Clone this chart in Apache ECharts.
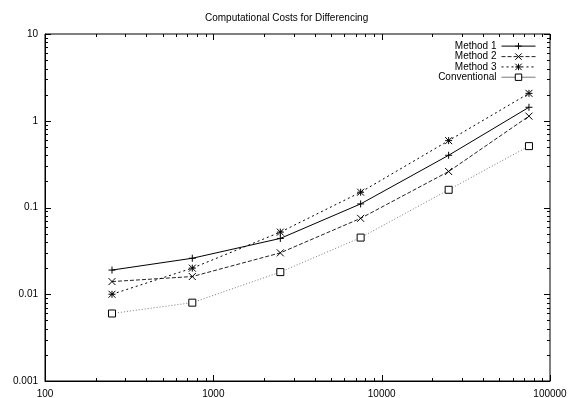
<!DOCTYPE html>
<html lang="en">

<head>
  <script src="https://cdn.jsdelivr.net/npm/echarts@6.0.0/dist/echarts.min.js"></script>
</head>

<body style="margin:0;background:#fff;">
  <div id="costChart" style="width: 570px;height:398px;"></div>

  <script type="text/javascript">

    // problem sizes on the x axis
    var sizes = [250, 750, 2500, 7500, 25000, 75000];

    // run time of each method
    var method1 = [0.019, 0.026, 0.044, 0.11, 0.40, 1.43];
    var method2 = [0.014, 0.016, 0.030, 0.075, 0.26, 1.13];
    var method3 = [0.010, 0.020, 0.052, 0.15, 0.59, 2.07];
    var conventional = [0.006, 0.008, 0.018, 0.045, 0.16, 0.51];

    // tick positions, gnuplot style (decades + 2..9 in between)
    var xMajorTicks = [100, 1000, 10000, 100000];
    var yMajorTicks = [0.001, 0.01, 0.1, 1, 10];
    var xMinorTicks = [200, 300, 400, 500, 600, 700, 800, 900,
                       2000, 3000, 4000, 5000, 6000, 7000, 8000, 9000,
                       20000, 30000, 40000, 50000, 60000, 70000, 80000, 90000];
    var yMinorTicks = [0.002, 0.003, 0.004, 0.005, 0.006, 0.007, 0.008, 0.009,
                       0.02, 0.03, 0.04, 0.05, 0.06, 0.07, 0.08, 0.09,
                       0.2, 0.3, 0.4, 0.5, 0.6, 0.7, 0.8, 0.9,
                       2, 3, 4, 5, 6, 7, 8, 9];

    var xMin = 100, xMax = 100000, yMin = 0.001, yMax = 10;
    var font = 'Liberation Sans';

    function pairs(ys) {
        return sizes.map(function (x, i) { return [x, ys[i]]; });
    }

    function fmt(v) {
        return String(Number(Number(v).toPrecision(4)));
    }

    function crisp(v) {
        return Math.round(v) + 0.5;
    }

    function tickLine(x1, y1, x2, y2) {
        return { type: 'line', shape: { x1: x1, y1: y1, x2: x2, y2: y2 }, style: { stroke: '#000', lineWidth: 1 } };
    }

    // x ticks: [value, yMin, length] -> marks on bottom and top edge
    function renderXTicks(params, api) {
        var b = api.coord([api.value(0), yMin]);
        var t = api.coord([api.value(0), yMax]);
        var len = api.value(2);
        var x = crisp(b[0]);
        return { type: 'group', children: [
            tickLine(x, b[1], x, b[1] - len),
            tickLine(x, t[1], x, t[1] + len)
        ] };
    }

    // y ticks: [xMin, value, length] -> marks on left and right edge
    function renderYTicks(params, api) {
        var l = api.coord([xMin, api.value(1)]);
        var r = api.coord([xMax, api.value(1)]);
        var len = api.value(2);
        var y = crisp(l[1]);
        return { type: 'group', children: [
            tickLine(l[0], y, l[0] + len, y),
            tickLine(r[0], y, r[0] - len, y)
        ] };
    }

    function logAxis(dim) {
        var isX = dim === 'x';
        return {
            type: 'log', logBase: 10,
            min: isX ? xMin : yMin, max: isX ? xMax : yMax,
            position: isX ? 'bottom' : 'left',
            axisLine: { show: true, onZero: false, lineStyle: { color: '#000', width: 1 } },
            axisTick: { show: false },
            axisLabel: {
                color: '#000', fontFamily: font, fontSize: 10,
                margin: isX ? 5 : 7,
                formatter: fmt
            },
            splitLine: { show: false }
        };
    }

    function makeSeries(name, ys, symbol, size, lineType, lineColor, fill) {
        return {
            name: name,
            type: 'line',
            data: pairs(ys),
            symbol: symbol,
            symbolSize: size,
            showAllSymbol: true,
            lineStyle: { color: lineColor, width: 1, type: lineType },
            itemStyle: { color: fill, borderColor: '#000', borderWidth: 1 },
            emphasis: { disabled: true }
        };
    }

    function legendDef(name, top, lineType) {
        return {
            data: [name],
            right: 34,
            top: top,
            padding: 0,
            align: 'right',
            itemWidth: 34,
            itemHeight: 8,
            selectedMode: false,
            lineStyle: { width: 1, type: lineType || 'inherit' },
            itemStyle: { borderWidth: 1 },
            textStyle: { color: '#000', fontFamily: font, fontSize: 10 }
        };
    }

    function createCostChart() {
        var chart = echarts.init(document.getElementById('costChart'));

        var xTickData = xMajorTicks.map(function (v) { return [v, yMin, 6]; })
            .concat(xMinorTicks.map(function (v) { return [v, yMin, 3]; }));
        var yTickData = yMajorTicks.map(function (v) { return [xMin, v, 6]; })
            .concat(yMinorTicks.map(function (v) { return [xMin, v, 3]; }));

        var option = {
            animation: false,
            title: {
                text: 'Computational Costs for Differencing',
                left: 205,
                top: 10,
                padding: 0,
                textStyle: { color: '#000', fontFamily: font, fontSize: 10, fontWeight: 'normal' }
            },
            legend: [
                legendDef('Method 1', 37.5),
                legendDef('Method 2', 48),
                legendDef('Method 3', 58.3),
                legendDef('Conventional', 68.6, 'solid')
            ],
            grid: {
                left: 45, right: 20, top: 34, bottom: 17,
                outerBoundsMode: 'none',
                show: true, borderColor: '#000', borderWidth: 1
            },
            xAxis: logAxis('x'),
            yAxis: logAxis('y'),
            series: [
                makeSeries('Method 1', method1, 'path://M0,5L10,5M5,0L5,10', 7, 'solid', '#000', 'none'),
                makeSeries('Method 2', method2, 'path://M0,0L10,10M10,0L0,10', 7, [4, 2], '#222', 'none'),
                makeSeries('Method 3', method3, 'path://M0,0L10,10M10,0L0,10M5,0L5,10M0,5L10,5', 7, [2, 3], '#000', 'none'),
                makeSeries('Conventional', conventional, 'rect', 7, [1, 2], '#777', '#fff'),
                { name: 'xticks', type: 'custom', renderItem: renderXTicks, data: xTickData, silent: true, z: 1 },
                { name: 'yticks', type: 'custom', renderItem: renderYTicks, data: yTickData, silent: true, z: 1 }
            ]
        };

        chart.setOption(option);
    }
    createCostChart();
  </script>
</body>

</html>
